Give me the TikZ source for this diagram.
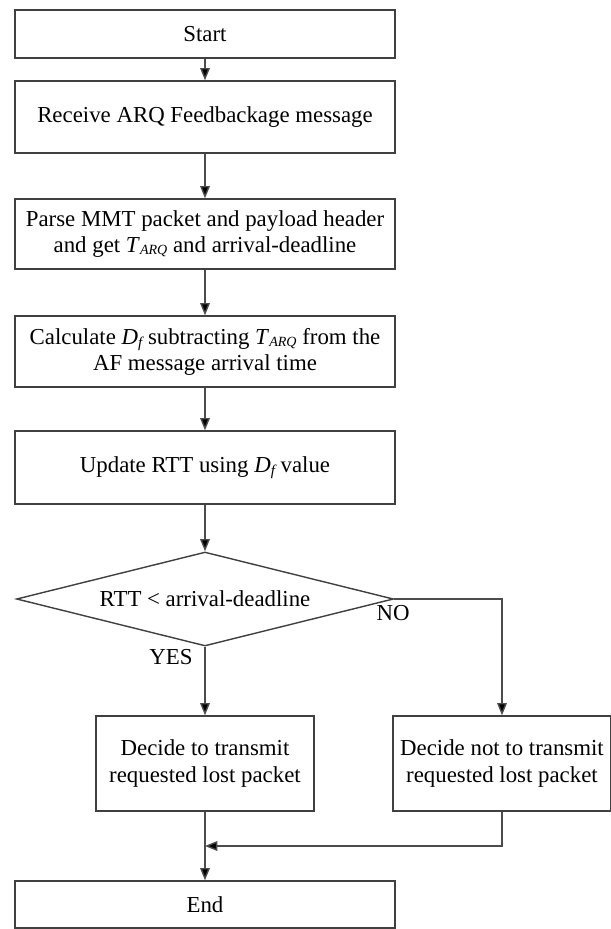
\documentclass[tikz,border=0pt]{standalone}
\usepackage{fontspec}
\setmainfont{Liberation Serif}
\usetikzlibrary{arrows.meta}
\usetikzlibrary{shapes.geometric}

\newcommand{\Tarq}{\textit{T}\raisebox{-0.2ex}{\fontsize{8}{8}\selectfont\itshape ARQ}}
\newcommand{\Df}{\textit{D}\raisebox{-0.3ex}{\fontsize{8.5}{8}\selectfont\itshape f}}

\begin{document}
\begin{tikzpicture}[x=0.02cm, y=-0.02cm,
		font=\fontsize{13}{14.8}\selectfont,
		proc/.style={draw=black!75, line width=0.8pt, fill=white, align=center, inner sep=0pt},
		wide/.style={proc, minimum width=7.6cm},
		narrow/.style={proc, minimum width=4.36cm, minimum height=1.9cm},
		link/.style={draw=black!70, line width=0.8pt, -{Triangle[length=7pt, width=5.5pt, fill=black]}}
	]
	\useasboundingbox (0,0) rectangle (611,929);
	\node[wide, minimum height=0.96cm] (start) at (205, 34) {Start};
	\node[wide, minimum height=1.44cm] (recv)  at (205,117) {Receive ARQ Feedbackage message};
	\node[wide, minimum height=1.40cm] (parse) at (205,234) {Parse MMT packet and payload header\\and get \Tarq{} and arrival-deadline};
	\node[wide, minimum height=1.42cm] (calc)  at (205,351.5) {Calculate \Df{} subtracting \Tarq{} from the\\AF message arrival time};
	\node[wide, minimum height=1.46cm] (upd)   at (205,467.5) {Update RTT using \Df{} value};
	\node[proc, shape=diamond, aspect=4, minimum width=7.54cm, minimum height=1.88cm] (test) at (205,599) {RTT < arrival-deadline};
	\node[narrow] (send)   at (205,763.5) {Decide to transmit\\requested lost packet};
	\node[narrow] (nosend) at (502,763.5) {Decide not to transmit\\requested lost packet};
	\node[wide, minimum height=0.94cm] (end) at (205,904.5) {End};
	\node (yes) at (171,657) {YES};
	\node (no)  at (393,613) {NO};
	\coordinate (join) at (205,846);

	\draw[link] (start) -- (recv);
	\draw[link] (recv) -- (parse);
	\draw[link] (parse) -- (calc);
	\draw[link] (calc) -- (upd);
	\draw[link] (upd) -- (test);
	\draw[link] (test.south) -- (send.north);
	\draw[link] (test.east) -| (nosend.north);
	\draw[link] (send.south) -- (end.north);
	\draw[link] (nosend.south) |- (join);
\end{tikzpicture}
\end{document}
